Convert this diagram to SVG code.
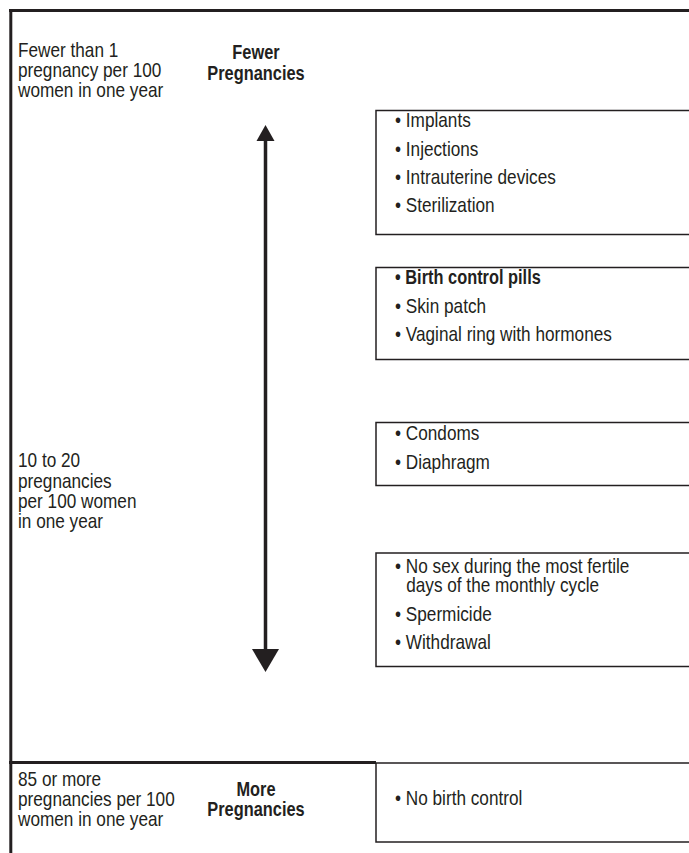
<svg xmlns="http://www.w3.org/2000/svg" width="689" height="853" viewBox="0 0 689 853">
<style>
text{font-family:"Liberation Sans",Arial,sans-serif;font-size:20px;fill:#231f20}
.b{font-weight:bold;font-size:19.5px}
.c{text-anchor:middle}
.frame{stroke:#231f20;stroke-width:3;fill:none}
.box{stroke:#231f20;stroke-width:1.5;fill:#fff}
.arrow{stroke:#231f20;stroke-width:3.5;fill:none}
.head{fill:#231f20}
</style>
<rect width="689" height="853" fill="#fff"/>
<g id="frame">
<line class="frame" x1="9" y1="10.5" x2="689" y2="10.5"/>
<line class="frame" x1="10.8" y1="9" x2="10.8" y2="853"/>
<line class="frame" x1="9" y1="762.5" x2="376" y2="762.5"/>
</g>
<g id="label-top" transform="translate(18,0) scale(0.86,1)">
<text x="0" y="57">Fewer than 1</text>
<text x="0" y="77.5">pregnancy per 100</text>
<text x="0" y="97.5">women in one year</text>
</g>
<g id="label-fewer" transform="translate(256,0) scale(0.84,1)">
<text class="b c" x="0" y="59">Fewer</text>
<text class="b c" x="0" y="80">Pregnancies</text>
</g>
<g id="label-middle" transform="translate(18,0) scale(0.86,1)">
<text x="0" y="467.5">10 to 20</text>
<text x="0" y="488">pregnancies</text>
<text x="0" y="508.3">per 100 women</text>
<text x="0" y="528.5">in one year</text>
</g>
<g id="label-bottom" transform="translate(18,0) scale(0.86,1)">
<text x="0" y="786">85 or more</text>
<text x="0" y="806">pregnancies per 100</text>
<text x="0" y="826.5">women in one year</text>
</g>
<g id="label-more" transform="translate(256,0) scale(0.84,1)">
<text class="b c" x="0" y="796">More</text>
<text class="b c" x="0" y="816">Pregnancies</text>
</g>
<g id="box1">
<rect class="box" x="376" y="110.5" width="330" height="124"/>
<g transform="translate(395,0) scale(0.86,1)">
<text x="0" y="127.5">• Implants</text>
<text x="0" y="156">• Injections</text>
<text x="0" y="184.3">• Intrauterine devices</text>
<text x="0" y="212.5">• Sterilization</text>
</g>
</g>
<g id="box2">
<rect class="box" x="376" y="267.5" width="330" height="92"/>
<g transform="translate(395,0) scale(0.84,1)">
<text class="b" x="0" y="284.5">• Birth control pills</text>
</g>
<g transform="translate(395,0) scale(0.86,1)">
<text x="0" y="313">• Skin patch</text>
<text x="0" y="341">• Vaginal ring with hormones</text>
</g>
</g>
<g id="box3">
<rect class="box" x="376" y="422.5" width="330" height="63"/>
<g transform="translate(395,0) scale(0.86,1)">
<text x="0" y="440">• Condoms</text>
<text x="0" y="469">• Diaphragm</text>
</g>
</g>
<g id="box4">
<rect class="box" x="376" y="553" width="330" height="113.5"/>
<g transform="translate(395,0) scale(0.86,1)">
<text x="0" y="573">• No sex during the most fertile<tspan x="13" y="592.5">days of the monthly cycle</tspan></text>
<text x="0" y="621.5">• Spermicide</text>
<text x="0" y="649.5">• Withdrawal</text>
</g>
</g>
<g id="box5">
<rect class="box" x="376" y="763" width="330" height="79"/>
<g transform="translate(395,0) scale(0.86,1)">
<text x="0" y="805">• No birth control</text>
</g>
</g>
<g id="connectors">
<line class="arrow" x1="265.5" y1="139" x2="265.5" y2="650"/>
<polygon class="head" points="265.5,125 256.5,141 274.5,141"/>
<polygon class="head" points="252,649 279,649 265.5,672"/>
</g>
</svg>
